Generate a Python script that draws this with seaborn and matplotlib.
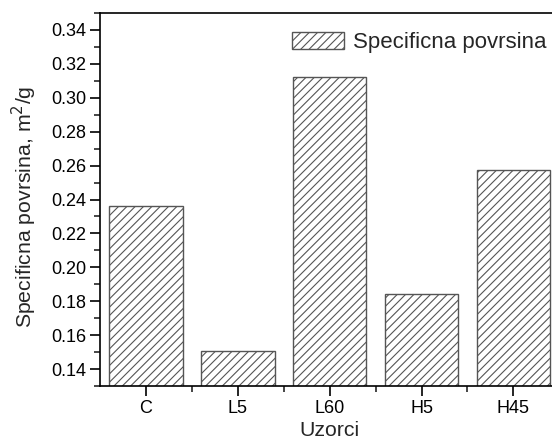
import matplotlib
matplotlib.use("Agg")
import matplotlib.pyplot as plt
from matplotlib import ticker
import pandas as pd
import seaborn as sns

# Data
samples = ["C", "L5", "L60", "H5", "H45"]
surface = [0.236, 0.1506, 0.3121, 0.1845, 0.2575]
series_label = "Specificna povrsina"

df = pd.DataFrame({"sample": samples, "surface": surface})

sns.set_style("ticks")
plt.rcParams["font.family"] = ["Liberation Sans", "DejaVu Sans"]
plt.rcParams["hatch.color"] = "#555555"
plt.rcParams["hatch.linewidth"] = 0.8

fig = plt.figure(figsize=(5.52, 4.40), dpi=100)
# axes runs a little past the right edge, like the reference crop
ax = fig.add_axes([100 / 552, 54 / 440, 459.3 / 552, 373 / 440])

sns.barplot(
    data=df, x="sample", y="surface", ax=ax,
    color="white", edgecolor="#555555", linewidth=1.0,
    hatch="////", width=0.8, saturation=1,
)

ax.set_ylim(0.13, 0.35)
ax.set_xlim(-0.5, len(samples) - 0.5)
ax.yaxis.set_major_locator(ticker.MultipleLocator(0.02))
ax.yaxis.set_minor_locator(ticker.MultipleLocator(0.01))
ax.yaxis.set_major_formatter(ticker.FormatStrFormatter("%.2f"))
ax.xaxis.set_minor_locator(ticker.FixedLocator([0.5, 1.5, 2.5, 3.5]))

for s in ax.spines.values():
    s.set_visible(True)
    s.set_linewidth(1.2)
    s.set_color("black")

ax.tick_params(which="major", direction="out", length=7, width=1.2,
               labelsize=13, colors="black", pad=3)
ax.tick_params(which="minor", direction="out", length=4, width=1.2)

ax.set_xlabel("Uzorci", fontsize=15.3, labelpad=3)
ax.set_ylabel("Specificna povrsina, m$^2$/g", fontsize=15.3)
ax.yaxis.set_label_coords(-0.133, 0.48)

ax.legend([ax.patches[0]], [series_label], loc="upper left",
          bbox_to_anchor=(292 / 552, 1 - 32 / 440), bbox_transform=fig.transFigure,
          frameon=False, fontsize=16, handlelength=2.34, handleheight=0.77,
          handletextpad=0.4, borderpad=0, borderaxespad=0)

fig.savefig("out.png", dpi=100)
